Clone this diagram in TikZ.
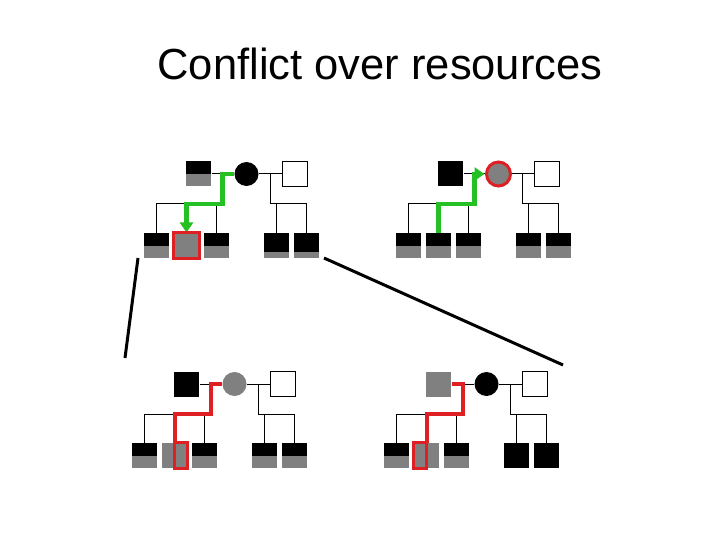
\documentclass[tikz,border=0pt]{standalone}
\usepackage{fontspec}
\setmainfont{Liberation Sans}
\usepackage{xcolor}
\usepackage{tikz}
\usetikzlibrary{shapes}
\usetikzlibrary{arrows.meta}
\definecolor{midgray}{RGB}{128,128,128}
\definecolor{leafgreen}{RGB}{36,192,36}
\definecolor{alarmred}{RGB}{222,32,36}

\begin{document}
\begin{tikzpicture}[
	x=1pt, y=-1pt,
	line width=1pt
]
\tikzset{
    man/.style = {rectangle, minimum size=25pt, inner sep=0pt},
    woman/.style = {circle, minimum size=24pt, inner sep=0pt},
    fblack/.style = {fill=black},
    fgray/.style = {fill=midgray},
    fwhite/.style = {draw=black, fill=white},
    fhalf/.style = {fill=midgray, path picture={
        \fill[black] (path picture bounding box.north west) rectangle (path picture bounding box.east);}},
    fmost/.style = {fill=midgray, path picture={
        \fill[black] (path picture bounding box.north west) rectangle ([yshift=6.5pt]path picture bounding box.south east);}},
    greenpath/.style = {draw=leafgreen, line width=4.5pt},
    redpath/.style = {draw=alarmred, line width=4pt},
    redbox/.style = {draw=alarmred, line width=3pt},
    link/.style = {draw=black, line width=3pt},
}
\fill[white] (0,0) rectangle (720,540);
\useasboundingbox (0,0) rectangle (720,540);

\node (title) [anchor=base, font=\fontsize{43.5pt}{50pt}\selectfont] at (380,80) {Conflict over resources};

% four pedigrees
\foreach \p/\x/\y/\fa/\mo/\ca/\cb/\cc/\cd/\ce in {
    1/198.5/174/fhalf/fblack/fhalf/fgray/fhalf/fmost/fmost,
    2/450.5/174/fblack/fgray/fhalf/fhalf/fhalf/fhalf/fhalf,
    3/186.5/384/fblack/fgray/fhalf/fgray/fhalf/fhalf/fhalf,
    4/438.5/384/fgray/fblack/fhalf/fgray/fhalf/fblack/fblack}
{
  \begin{scope}[shift={(\x,\y)}]
    \node (fath\p) [man,\fa] at (0,0) {};
    \node (moth\p) [woman,\mo] at (48,0) {};
    \node (other\p) [man,fwhite] at (96,0) {};
    \node (kidA\p) [man,\ca] at (-42,71.5) {};
    \node (kidB\p) [man,\cb] at (-12,71.5) {};
    \node (kidC\p) [man,\cc] at (18,71.5) {};
    \node (kidD\p) [man,\cd] at (78,71.5) {};
    \node (kidE\p) [man,\ce] at (108,71.5) {};
    \coordinate (joinA\p) at (24,0);
    \coordinate (barA\p) at (24,30);
    \coordinate (joinB\p) at (72,0);
    \coordinate (barB\p) at (72,30);
    \draw (fath\p.east) -- (moth\p.west);
    \draw (moth\p.east) -- (other\p.west);
    \draw (joinA\p) -- (barA\p) -| (kidA\p.north);
    \draw (barA\p) -| (kidB\p.north);
    \draw (barA\p) -| (kidC\p.north);
    \draw (joinB\p) -- (barB\p) -| (kidD\p.north);
    \draw (barB\p) -| (kidE\p.north);
  \end{scope}
}

% help flowing to and from the mother
\draw[greenpath, -{Triangle[length=10pt,width=13pt]}] (moth1.west) -- (joinA1) -- (barA1) -| (kidB1.north);
\draw[redbox] (kidB1.north west) rectangle (kidB1.south east);
\draw[greenpath, -{Triangle[length=10pt,width=13pt]}, shorten >=1.5pt] (kidB2.north) |- (barA2) -- (joinA2) -- (moth2.west);
\draw[redbox] (moth2.center) circle[radius=12pt];

\draw[redpath] (moth3.west) -- (joinA3) -- (barA3) -| (kidB3.north);
\draw[redbox] (kidB3.north) rectangle (kidB3.south east);
\draw[redpath] (fath4.east) -- (joinA4) -- (barA4) -| (kidB4.north);
\draw[redbox] (kidB4.north west) rectangle (kidB4.south);

\coordinate (leftTop) at (138,258);
\coordinate (leftEnd) at (125,358);
\coordinate (rightTop) at (324,258);
\coordinate (rightEnd) at (563,365);
\draw[link] (leftTop) -- (leftEnd);
\draw[link] (rightTop) -- (rightEnd);

\end{tikzpicture}
\end{document}
